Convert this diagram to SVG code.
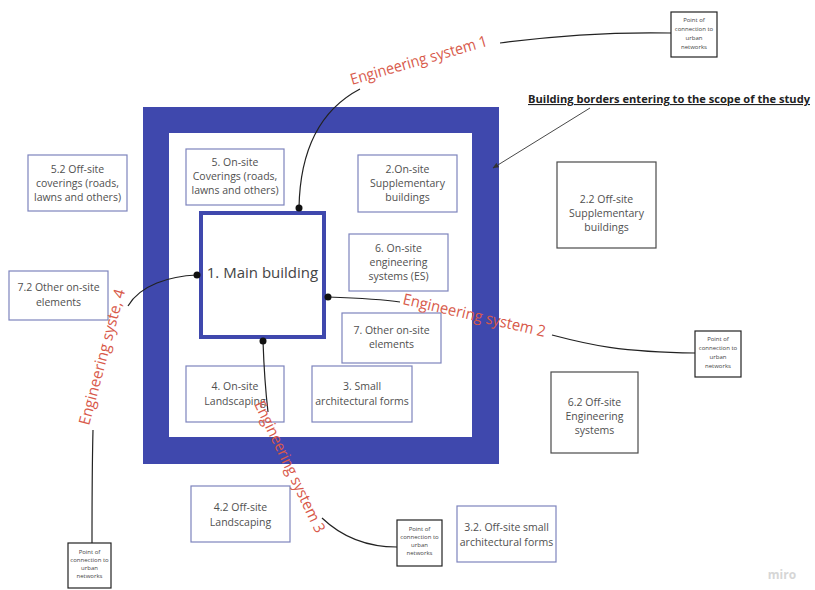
<svg xmlns="http://www.w3.org/2000/svg" width="815" height="590" viewBox="0 0 815 590">
  <defs>
    <style>
      .box { fill: #ffffff; stroke: #7d84bd; stroke-width: 1.2; }
      .dbox { fill: #ffffff; stroke: #4a4a4a; stroke-width: 1.2; }
      .pbox { fill: #ffffff; stroke: #222222; stroke-width: 1.2; }
      .t { font-family: "Open Sans", "Noto Sans", sans-serif; font-size: 10.5px; fill: #505050; text-anchor: middle; }
      .pt { font-family: "Open Sans", "Noto Sans", sans-serif; font-size: 6px; fill: #444444; text-anchor: middle; }
      .es { font-family: "Open Sans", "Noto Sans", sans-serif; font-size: 15.5px; fill: #d8594a; }
      .wire { fill: none; stroke: #222222; stroke-width: 1.2; }
      .dot { fill: #111111; }
    </style>
    <marker id="arrow" viewBox="0 0 10 10" refX="9" refY="5" markerWidth="7" markerHeight="7" orient="auto-start-reverse">
      <path d="M0,1 L10,5 L0,9 z" fill="#333333"/>
    </marker>
  </defs>

  <rect width="815" height="590" fill="#ffffff"/>

  <!-- site border frame -->
  <g id="site-border">
    <rect x="143" y="107" width="356" height="357" fill="#3f48ad"/>
    <rect x="169" y="133" width="303" height="304" fill="#ffffff"/>
  </g>

  <!-- title of the border -->
  <g id="border-title">
    <text x="528" y="103" font-family="'Open Sans', 'Noto Sans', sans-serif" font-size="11" font-weight="bold" fill="#222222" text-decoration="underline" textLength="282" lengthAdjust="spacingAndGlyphs">Building borders entering to the scope of the study</text>
  </g>

  <!-- main building -->
  <g id="main-building">
    <rect x="201" y="213" width="123" height="124" fill="#ffffff" stroke="#3f48ad" stroke-width="4"/>
    <text x="262.5" y="278" font-family="'Open Sans', 'Noto Sans', sans-serif" font-size="15" fill="#444444" text-anchor="middle">1. Main building</text>
  </g>

  <!-- on-site elements -->
  <g id="onsite-coverings">
    <rect class="box" x="186" y="149" width="98" height="56"/>
    <text class="t" x="235" y="166">5. On-site</text>
    <text class="t" x="235" y="180">Coverings (roads,</text>
    <text class="t" x="235" y="194">lawns and others)</text>
  </g>
  <g id="onsite-supplementary">
    <rect class="box" x="358" y="155" width="99" height="57"/>
    <text class="t" x="407.5" y="173">2.On-site</text>
    <text class="t" x="407.5" y="187">Supplementary</text>
    <text class="t" x="407.5" y="201">buildings</text>
  </g>
  <g id="onsite-engineering">
    <rect class="box" x="349" y="234" width="99" height="57"/>
    <text class="t" x="398.5" y="252">6. On-site</text>
    <text class="t" x="398.5" y="266">engineering</text>
    <text class="t" x="398.5" y="280">systems (ES)</text>
  </g>
  <g id="onsite-other">
    <rect class="box" x="342" y="313" width="99" height="50"/>
    <text class="t" x="391.5" y="334">7. Other on-site</text>
    <text class="t" x="391.5" y="348">elements</text>
  </g>
  <g id="onsite-landscaping">
    <rect class="box" x="186" y="366" width="98" height="56"/>
    <text class="t" x="235" y="390">4. On-site</text>
    <text class="t" x="235" y="405">Landscaping</text>
  </g>
  <g id="onsite-small-forms">
    <rect class="box" x="312" y="366" width="100" height="56"/>
    <text class="t" x="362" y="390">3. Small</text>
    <text class="t" x="362" y="405">architectural forms</text>
  </g>

  <!-- off-site elements -->
  <g id="offsite-coverings">
    <rect class="box" x="28" y="155" width="99" height="56"/>
    <text class="t" x="77.5" y="173">5.2 Off-site</text>
    <text class="t" x="77.5" y="187">coverings (roads,</text>
    <text class="t" x="77.5" y="201">lawns and others)</text>
  </g>
  <g id="offsite-other">
    <rect class="box" x="9" y="271" width="99" height="49"/>
    <text class="t" x="58.5" y="291">7.2 Other on-site</text>
    <text class="t" x="58.5" y="306">elements</text>
  </g>
  <g id="offsite-supplementary">
    <rect class="dbox" x="557" y="162" width="99" height="86"/>
    <text class="t" x="606.5" y="203">2.2 Off-site</text>
    <text class="t" x="606.5" y="217">Supplementary</text>
    <text class="t" x="606.5" y="231">buildings</text>
  </g>
  <g id="offsite-engineering">
    <rect class="dbox" x="551" y="372" width="87" height="81"/>
    <text class="t" x="594.5" y="406">6.2 Off-site</text>
    <text class="t" x="594.5" y="420">Engineering</text>
    <text class="t" x="594.5" y="434">systems</text>
  </g>
  <g id="offsite-landscaping">
    <rect class="box" x="191" y="486" width="99" height="56"/>
    <text class="t" x="240.5" y="511">4.2 Off-site</text>
    <text class="t" x="240.5" y="526">Landscaping</text>
  </g>
  <g id="offsite-small-forms">
    <rect class="box" x="457" y="506" width="99" height="56"/>
    <text class="t" x="506.5" y="531">3.2. Off-site small</text>
    <text class="t" x="506.5" y="546">architectural forms</text>
  </g>

  <!-- points of connection to urban networks -->
  <g id="connection-1">
    <rect class="pbox" x="671" y="12" width="46" height="45"/>
    <text class="pt" x="694" y="22">Point of</text>
    <text class="pt" x="694" y="31">connection to</text>
    <text class="pt" x="694" y="40">urban</text>
    <text class="pt" x="694" y="49">networks</text>
  </g>
  <g id="connection-2">
    <rect class="pbox" x="695" y="331" width="46" height="46"/>
    <text class="pt" x="718" y="341">Point of</text>
    <text class="pt" x="718" y="350">connection to</text>
    <text class="pt" x="718" y="359">urban</text>
    <text class="pt" x="718" y="368">networks</text>
  </g>
  <g id="connection-3">
    <rect class="pbox" x="397" y="520" width="45" height="46"/>
    <text class="pt" x="419.5" y="531">Point of</text>
    <text class="pt" x="419.5" y="539">connection to</text>
    <text class="pt" x="419.5" y="547">urban</text>
    <text class="pt" x="419.5" y="555">networks</text>
  </g>
  <g id="connection-4">
    <rect class="pbox" x="68" y="543" width="43" height="45"/>
    <text class="pt" x="89.5" y="554">Point of</text>
    <text class="pt" x="89.5" y="562">connection to</text>
    <text class="pt" x="89.5" y="570">urban</text>
    <text class="pt" x="89.5" y="578">networks</text>
  </g>

  <!-- engineering system connectors -->
  <g id="connectors">
    <path class="wire" d="M299,208 C300,150 320,110 360,89"/>
    <path class="wire" d="M500,43 C560,35 620,32 671,33"/>
    <path class="wire" d="M328,297 C355,298 380,299 400,302"/>
    <path class="wire" d="M552,335 C590,345 620,352 695,353"/>
    <path class="wire" d="M263,341 C264,370 266,395 268,412"/>
    <path class="wire" d="M322,518 C345,540 370,547 397,547"/>
    <path class="wire" d="M197,275 C170,276 140,285 128,306"/>
    <path class="wire" d="M93,430 C92,470 92,510 92,543"/>
    <line x1="590" y1="108" x2="493" y2="168" stroke="#333333" stroke-width="0.9" marker-end="url(#arrow)"/>
    <circle class="dot" cx="299" cy="208" r="3.5"/>
    <circle class="dot" cx="328" cy="297" r="3.5"/>
    <circle class="dot" cx="263" cy="341" r="3.5"/>
    <circle class="dot" cx="197" cy="275" r="3.5"/>
  </g>

  <!-- engineering system labels -->
  <g id="labels">
    <text class="es" transform="translate(352,85) rotate(-16)" textLength="142" lengthAdjust="spacingAndGlyphs">Engineering system 1</text>
    <text class="es" transform="translate(402,304) rotate(13)" textLength="146" lengthAdjust="spacingAndGlyphs">Engineering system 2</text>
    <text class="es" transform="translate(254,404) rotate(64.5)" textLength="144" lengthAdjust="spacingAndGlyphs">Engineering system 3</text>
    <text class="es" transform="translate(89,426) rotate(-75)" textLength="140" lengthAdjust="spacingAndGlyphs">Engineering syste, 4</text>
  </g>

  <text x="782" y="579" font-family="'Open Sans', 'Noto Sans', sans-serif" font-size="12" font-weight="bold" fill="#d6d6d6" text-anchor="middle">miro</text>
</svg>
